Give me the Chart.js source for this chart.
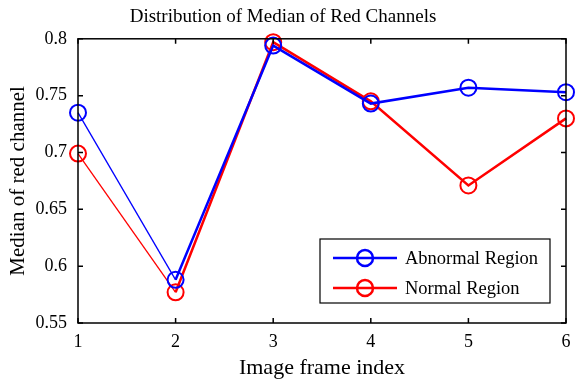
<!DOCTYPE html>
<html>
<head>
<meta charset="utf-8">
<script src="https://cdn.jsdelivr.net/npm/chart.js@4"></script>
<style>
  html, body { margin: 0; padding: 0; background: #fff; }
  #wrap { width: 576px; height: 385px; }
</style>
</head>
<body>
<div id="wrap"><canvas id="medianChart" width="576" height="385"></canvas></div>
<script>
// data
const frames = [1, 2, 3, 4, 5, 6];
const abnormal = [0.735, 0.588, 0.794, 0.743, 0.757, 0.753];
const normal = [0.699, 0.577, 0.797, 0.745, 0.671, 0.730];
const yTicks = [0.55, 0.6, 0.65, 0.7, 0.75, 0.8];

const serif = '"Liberation Serif", "Times New Roman", serif';

function toPoints(values) {
    return frames.map((f, i) => ({ x: f, y: values[i] }));
}

// box around the axes with inward ticks on every side (MATLAB look)
const boxPlugin = {
    id: 'boxTicks',
    afterDatasetsDraw(chart) {
        const { ctx, chartArea: a, scales } = chart;
        ctx.save();
        ctx.strokeStyle = '#000';
        ctx.lineWidth = 1.5;
        ctx.strokeRect(a.left, a.top, a.right - a.left, a.bottom - a.top);
        const len = 5;
        ctx.beginPath();
        frames.forEach(f => {
            const x = scales.x.getPixelForValue(f);
            ctx.moveTo(x, a.bottom); ctx.lineTo(x, a.bottom - len);
            ctx.moveTo(x, a.top); ctx.lineTo(x, a.top + len);
        });
        yTicks.forEach(v => {
            const y = scales.y.getPixelForValue(v);
            ctx.moveTo(a.left, y); ctx.lineTo(a.left + len, y);
            ctx.moveTo(a.right, y); ctx.lineTo(a.right - len, y);
        });
        ctx.stroke();
        ctx.restore();
    },
    afterDraw(chart) {
        // legend box in lower right corner of the axes
        const { ctx, chartArea: a } = chart;
        const w = 230, h = 64;
        const left = a.right - 16 - w;
        const top = a.bottom - 20 - h;
        ctx.save();
        ctx.fillStyle = '#fff';
        ctx.fillRect(left, top, w, h);
        ctx.strokeStyle = '#000';
        ctx.lineWidth = 1.2;
        ctx.strokeRect(left, top, w, h);
        ctx.font = '18.5px ' + serif;
        ctx.textBaseline = 'middle';
        chart.data.datasets.forEach((ds, i) => {
            const y = top + 19 + i * 30;
            ctx.strokeStyle = ds.borderColor;
            ctx.lineWidth = 2.5;
            ctx.beginPath();
            ctx.moveTo(left + 13, y); ctx.lineTo(left + 77, y);
            ctx.stroke();
            ctx.beginPath();
            ctx.arc(left + 45, y, 8, 0, Math.PI * 2);
            ctx.stroke();
            ctx.fillStyle = '#000';
            ctx.fillText(ds.label, left + 85, y + 1);
        });
        ctx.restore();
    }
};

function makeSet(label, values, color) {
    return {
        label: label,
        data: toPoints(values),
        borderColor: color,
        backgroundColor: 'transparent',
        borderWidth: 2.5,
        segment: {
            borderWidth: c => c.p0DataIndex === 0 ? 1.3 : 2.5
        },
        pointRadius: 8,
        pointBorderWidth: 2,
        pointBackgroundColor: 'transparent',
        pointBorderColor: color,
        clip: false,
        tension: 0
    };
}

new Chart(document.getElementById('medianChart'), {
    type: 'line',
    data: {
        datasets: [
            makeSet('Abnormal Region', abnormal, '#0000ff'),
            makeSet('Normal Region', normal, '#ff0000')
        ]
    },
    plugins: [boxPlugin],
    options: {
        responsive: false,
        animation: false,
        layout: { padding: { left: 0, right: 10, top: 0, bottom: 0 } },
        plugins: {
            legend: { display: false },
            tooltip: { enabled: false },
            title: {
                display: true,
                text: 'Distribution of Median of Red Channels',
                color: '#000',
                font: { family: serif, size: 19, weight: 'normal' },
                padding: { top: 6, bottom: 10 }
            }
        },
        scales: {
            x: {
                type: 'linear',
                min: 1,
                max: 6,
                grid: { display: false },
                border: { display: false },
                ticks: {
                    stepSize: 1,
                    color: '#000',
                    padding: 0,
                    font: { family: serif, size: 18 }
                },
                title: {
                    display: true,
                    text: 'Image frame index',
                    color: '#000',
                    font: { family: serif, size: 22 },
                    padding: { top: 0, bottom: 4 }
                },
                afterFit: s => { s.height = 62; }
            },
            y: {
                min: 0.55,
                max: 0.8,
                grid: { display: false },
                border: { display: false },
                afterBuildTicks: s => { s.ticks = yTicks.map(v => ({ value: v })); },
                ticks: {
                    color: '#000',
                    padding: 3,
                    font: { family: serif, size: 18 },
                    callback: v => String(+v.toFixed(2))
                },
                title: {
                    display: true,
                    text: 'Median of red channel',
                    color: '#000',
                    font: { family: serif, size: 21 },
                    padding: { top: 6, bottom: 0 }
                },
                afterFit: s => { s.width = 78; }
            }
        }
    }
});
</script>
</body>
</html>
